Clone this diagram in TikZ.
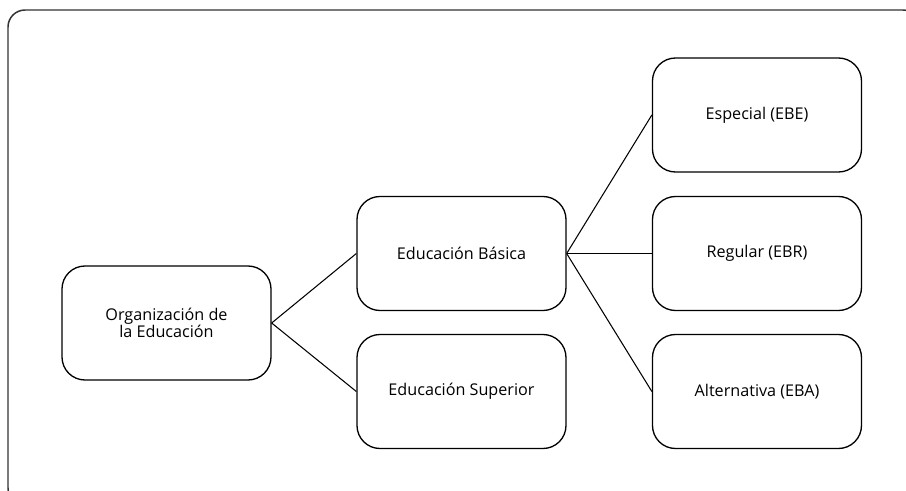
\documentclass[tikz,border=0pt]{standalone}
\usepackage{fontspec}
\setmainfont{Open Sans}
\usetikzlibrary{positioning}

\begin{document}
\begin{tikzpicture}[
    nivel/.style={draw=black, rounded corners=0.46cm, line width=0.75pt,
      minimum width=4.18cm, minimum height=2.28cm, align=center,
      font=\fontsize{9.2}{9.4}\selectfont},
    rama/.style={draw=black, line width=0.6pt}
  ]
      \useasboundingbox (0, 0) rectangle (18.12, 9.8);
      \draw[black!80, line width=0.85pt, rounded corners=0.34cm] (0.16, 9.6) rectangle (18.4, -0.3);

      \node[nivel] (org) at (3.33, 3.34) {Organización de\\la Educación};

      \node[nivel] (basica) at (9.23, 4.73) {Educación Básica};
      \node[nivel] (superior) at (9.23, 1.97) {Educación Superior};

      \node[nivel] (especial) at (15.14, 7.5) {Especial (EBE)};
      \node[nivel] (regular) at (15.14, 4.73) {Regular (EBR)};
      \node[nivel] (alternativa) at (15.14, 1.97) {Alternativa (EBA)};

      \draw[rama] (org.east) -- (basica.west);
      \draw[rama] (org.east) -- (superior.west);

      \draw[rama] (basica.east) -- (especial.west);
      \draw[rama] (basica.east) -- (regular.west);
      \draw[rama] (basica.east) -- (alternativa.west);

\end{tikzpicture}
\end{document}
